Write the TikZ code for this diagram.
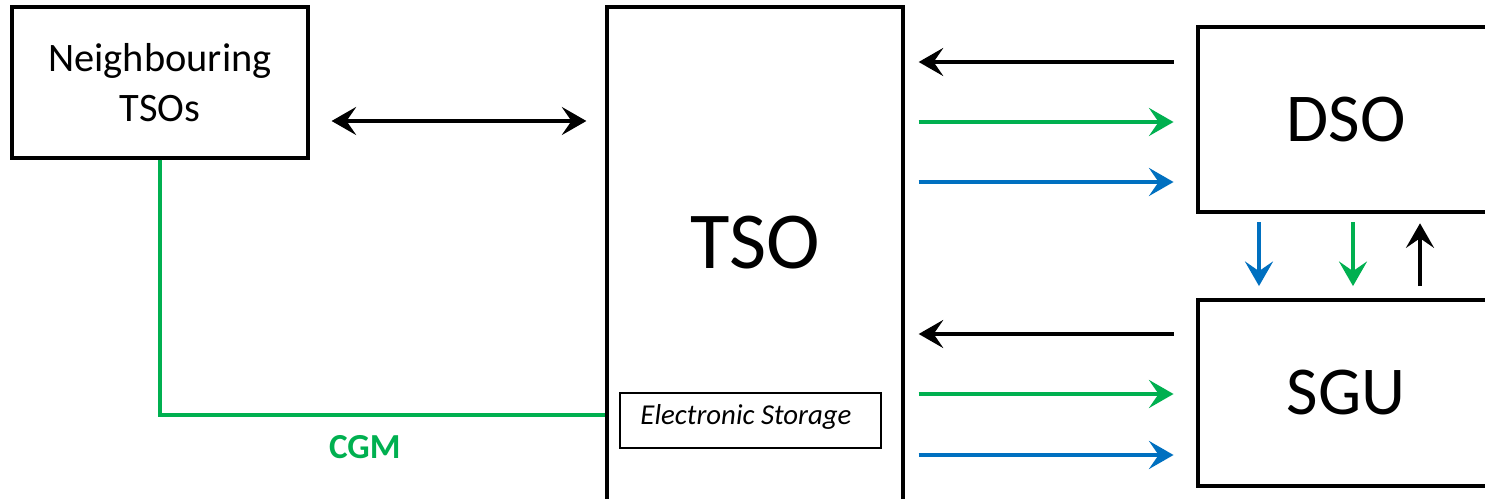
\documentclass[tikz,border=0pt]{standalone}
\usepackage{fontspec}
\setmainfont{Carlito}
\usetikzlibrary{arrows.meta, positioning}

\definecolor{cgmgreen}{RGB}{0,176,80}
\definecolor{msgblue}{RGB}{0,112,192}

\begin{document}
\begin{tikzpicture}[
    x=0.02cm, y=-0.02cm,
    >={Stealth[length=14pt, width=16pt, inset=5.5pt]},
    box/.style={draw, line width=1.9pt, rectangle, minimum width=5.92cm, align=center, inner sep=0pt},
    fwd/.style={->, line width=1.8pt, shorten <=8pt, shorten >=13pt},
    bwd/.style={->, line width=1.8pt, shorten <=13pt, shorten >=8pt},
    vflow/.style={->, line width=1.8pt, shorten <=5pt, shorten >=7pt}
]
\useasboundingbox[fill=white] (0,0) rectangle (1485,499);

% Actors
\node[box, minimum height=3.02cm, font=\fontsize{23}{28.4}\selectfont] (nbr) at (160,82.5) {Neighbouring\\TSOs};
\node[box, minimum height=10.46cm] (tso) at (755,268.5) {};
\node[font=\fontsize{46}{55}\selectfont] (tsotxt) at (755,243) {TSO};
\node[draw, line width=1.3pt, minimum width=5.22cm, minimum height=1.1cm] (store) at (750.5,420.5) {};
\node[font=\itshape\fontsize{16.4}{19}\selectfont] (storetxt) at (746,417) {Electronic Storage};
\node[box, minimum height=3.7cm, font=\fontsize{39}{47}\selectfont] (dso) at (1346,119.5) {DSO};
\node[box, minimum height=3.72cm, font=\fontsize{39}{47}\selectfont] (sgu) at (1346,393) {SGU};

% TSO <-> neighbours
\draw[<->, line width=1.8pt, shorten <=12.5pt, shorten >=10.8pt] (nbr.east |- 0,121) -- (tso.west |- 0,121);
\draw[cgmgreen, line width=1.9pt] (nbr.south) |- node[pos=0.73, yshift=-18pt, font=\bfseries\fontsize{20}{24}\selectfont] (cgm) {CGM} (tso.west |- 0,415);

% TSO <-> DSO
\draw[bwd] (dso.west |- 0,62) -- (tso.east |- 0,62);
\draw[fwd, cgmgreen] (tso.east |- 0,122) -- (dso.west |- 0,122);
\draw[fwd, msgblue] (tso.east |- 0,182) -- (dso.west |- 0,182);

% TSO <-> SGU
\draw[bwd] (sgu.west |- 0,334) -- (tso.east |- 0,334);
\draw[fwd, cgmgreen] (tso.east |- 0,394) -- (sgu.west |- 0,394);
\draw[fwd, msgblue] (tso.east |- 0,455) -- (sgu.west |- 0,455);

% DSO <-> SGU
\draw[vflow, msgblue] (dso.south -| 1259,0) -- (sgu.north -| 1259,0);
\draw[vflow, cgmgreen] (dso.south -| 1353,0) -- (sgu.north -| 1353,0);
\draw[->, line width=1.8pt, shorten <=7pt, shorten >=5.5pt] (sgu.north -| 1420,0) -- (dso.south -| 1420,0);

\end{tikzpicture}
\end{document}
